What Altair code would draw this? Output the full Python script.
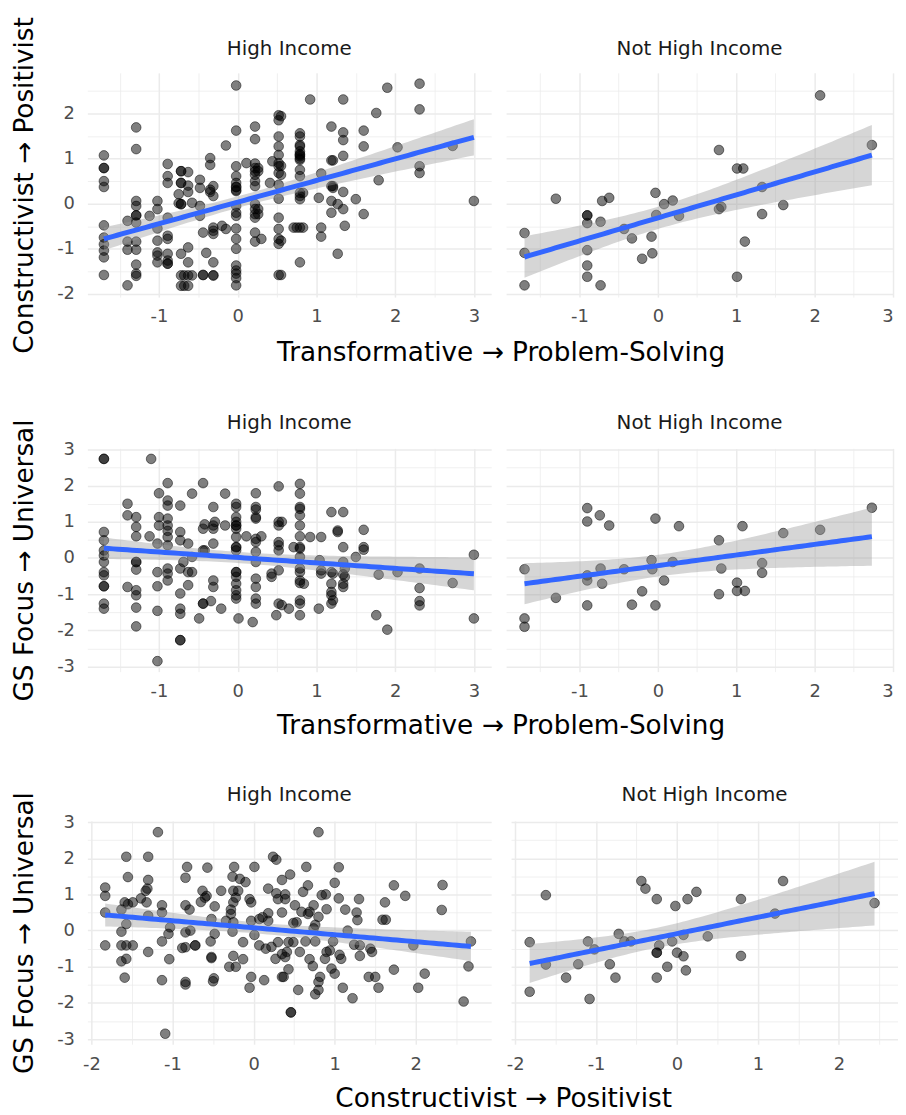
import math
import numpy as np
import pandas as pd
import altair as alt

FONT = "DejaVu Sans"

# ---------------- data ----------------
# Row 1: x = Transformative -> Problem-Solving, y = Constructivist -> Positivist
R1_HI = [
    (-1.70, [1.07, 0.79, 0.79, 0.50, 0.37, -0.48, -0.75, -0.90, -1.04, -1.19, -1.58]),
    (-1.40, [-0.38, -0.84, -1.02, -1.81]),
    (-1.29, [1.69, 1.21, 0.06, -0.05, -0.26, -0.26, -0.42, -0.84, -1.02, -1.35, -1.55, -1.60]),
    (-1.12, [-0.27]),
    (-1.02, [0.06, -0.12, -0.55, -0.82, -1.08, -1.15, -1.30]),
    (-0.89, [0.88, 0.61, 0.46, -0.31, -0.71, -0.78, -1.11, -1.26, -1.33, -1.33]),
    (-0.75, [0.21, 0.01]),
    (-0.72, [0.72, 0.72, 0.46, 0.46, -0.01, -0.01, -1.11, -1.59, -1.82]),
    (-0.68, [-1.59, -1.82]),
    (-0.63, [0.70, 0.40, 0.26, -0.97, -1.30, -1.59, -1.82]),
    (-0.58, [0.02, -1.59]),
    (-0.48, [0.53, 0.35, -0.05, -0.27]),
    (-0.44, [-0.64, -1.58, -1.58]),
    (-0.40, [-1.09]),
    (-0.35, [1.01, 0.86, 0.31, 0.26]),
    (-0.31, [0.39, 0.17, -0.53, -0.60, -0.67, -1.30, -1.59, -1.59]),
    (-0.20, [-0.49]),
    (-0.15, [1.29, -0.56]),
    (-0.02, [2.62, 1.62, 0.83, 0.61, 0.46, 0.37, 0.37, 0.30, 0.28, -0.05, -0.20, -0.27,
             -0.55, -0.78, -1.00, -1.37, -1.48, -1.55, -1.65, -1.81]),
    (0.11, [0.90]),
    (0.22, [1.71, 1.43, 0.89, 0.79, 0.72, 0.64, 0.50, 0.39, -0.01, -0.12, -0.23, -0.31, -0.64, -0.84]),
    (0.26, [0.79, 0.72, -0.12, -0.23]),
    (0.30, [-0.78]),
    (0.41, [0.46]),
    (0.44, [0.94]),
    (0.52, [1.96, 1.85, 1.49, 1.27, 1.08, 0.90, 0.83, 0.68, 0.42, 0.11, -0.31, -0.56, -0.78, -0.89, -1.58]),
    (0.55, [1.94, 0.84, 0.64, -0.82, -1.58]),
    (0.71, [-0.53]),
    (0.75, [-0.53]),
    (0.79, [1.56, 1.49, 1.30, 1.27, 1.16, 1.10, 1.08, 1.05, 1.00, 0.97, 0.75, 0.61, 0.24, 0.17, 0.10, -0.53, -1.30]),
    (0.83, [0.24, -0.53]),
    (0.92, [2.31]),
    (1.03, [0.13]),
    (1.06, [0.67, -0.53, -0.73]),
    (1.19, [1.71, 0.96, 0.39, 0.06, -0.20]),
    (1.21, [0.96, 0.39, 0.35]),
    (1.27, [-0.01, -1.11]),
    (1.34, [2.31, 1.58, 1.41, 1.06, 0.26, -0.12]),
    (1.36, [-0.49]),
    (1.50, [0.10]),
    (1.60, [1.62, 1.27, -0.23]),
    (1.76, [2.01]),
    (1.79, [0.52]),
    (1.90, [2.57]),
    (2.03, [1.25]),
    (2.31, [2.66, 2.09, 0.83, 0.68]),
    (2.73, [1.28]),
    (3.00, [0.06]),
]
R1_NHI = [
    (-1.70, [-0.65, -1.09, -1.81]),
    (-1.30, [0.11]),
    (-0.90, [-0.26, -0.26, -0.43, -1.03, -1.37, -1.62]),
    (-0.73, [-0.40, -1.81]),
    (-0.71, [0.06]),
    (-0.62, [0.13]),
    (-0.43, [-0.56]),
    (-0.33, [-0.77]),
    (-0.20, [-1.22]),
    (-0.08, [-0.73]),
    (-0.07, [-1.10]),
    (-0.03, [0.24]),
    (-0.02, [-0.25]),
    (0.08, [-0.01]),
    (0.19, [0.07]),
    (0.27, [-0.27]),
    (0.78, [1.19, -0.12]),
    (0.81, [-0.07]),
    (1.01, [0.78, -1.62]),
    (1.09, [0.78]),
    (1.11, [-0.84]),
    (1.33, [0.37, -0.23]),
    (1.60, [-0.03]),
    (2.07, [2.40]),
    (2.73, [1.30]),
]

# Row 2: x = Transformative -> Problem-Solving, y = GS Focus -> Universal
R2_HI = [
    (-1.70, [2.74, 2.74, 0.72, 0.49, 0.21, 0.07, -0.11, -0.39, -0.48, -0.78, -0.78, -1.26, -1.40]),
    (-1.40, [1.50, 1.18, -0.80]),
    (-1.29, [1.13, 0.86, 0.60, -0.11, -0.11, -0.32, -0.89, -1.03, -1.37, -1.89]),
    (-1.12, [0.60]),
    (-1.10, [2.74]),
    (-1.02, [0.40, -0.39, -0.78, -1.46, -2.85]),
    (-1.00, [1.79, 1.13, 0.90]),
    (-0.89, [2.07, 1.59, 1.45, 1.09, 0.90, 0.75, 0.58, 0.35, -0.29, -0.43, -0.62]),
    (-0.73, [1.45, 0.72, 0.49, -0.29, -0.98, -1.40, -1.54, -2.27, -2.27]),
    (-0.69, [-0.11]),
    (-0.63, [0.40, -0.39, -0.75]),
    (-0.58, [1.78, 0.03, -0.39]),
    (-0.49, [-1.67]),
    (-0.44, [2.07, 0.81, 0.21, -1.26, -1.26]),
    (-0.42, [0.93, 0.21]),
    (-0.34, [-1.19]),
    (-0.31, [1.41, 0.90, 0.81, 0.40, -0.62, -0.80]),
    (-0.29, [1.00]),
    (-0.21, [-1.40]),
    (-0.16, [1.78, 0.90]),
    (-0.02, [1.50, 1.41, 1.13, 1.00, 0.90, 0.90, 0.81, 0.58, 0.30, 0.30, 0.21, -0.39, -0.39,
             -0.52, -0.71, -0.89, -1.03, -1.12]),
    (0.01, [-1.67]),
    (0.11, [0.60]),
    (0.19, [-1.77]),
    (0.23, [1.79, 1.41, 1.34, 1.13, 1.09, 0.53, 0.44, 0.17, -0.11, -0.57, -0.80, -1.12, -1.26]),
    (0.30, [0.60]),
    (0.43, [-0.52, -0.43]),
    (0.49, [-1.58]),
    (0.52, [1.98, 1.00, 0.90, 0.44, 0.35, 0.21, -0.34, -1.26]),
    (0.56, [1.00, -1.30]),
    (0.65, [-1.40]),
    (0.71, [0.30]),
    (0.79, [2.05, 1.78, 1.41, 1.36, 1.18, 0.90, 0.60, 0.30, 0.26, 0.03, -0.29, -0.39, -0.62, -0.69,
            -1.17, -1.26, -1.58]),
    (0.84, [-0.71]),
    (0.92, [0.58]),
    (1.03, [-1.40]),
    (1.04, [-0.06]),
    (1.06, [0.58, -0.34, -0.43]),
    (1.19, [1.27, -0.39, -0.71, -0.94, -1.03, -1.26]),
    (1.21, [-0.43, -1.17]),
    (1.27, [0.76, 0.72]),
    (1.34, [1.27, 0.30, -0.11, -0.45, -0.71, -0.80]),
    (1.36, [-0.29, -0.52]),
    (1.50, [0.03]),
    (1.60, [0.78, 0.30, 0.23]),
    (1.76, [-1.58]),
    (1.79, [-0.46]),
    (1.90, [-1.98]),
    (2.03, [-0.39]),
    (2.31, [-0.29, -0.83, -1.19, -1.31]),
    (2.73, [-0.69]),
    (3.00, [0.09, -1.67]),
]
R2_NHI = [
    (-1.70, [-0.31, -1.67, -1.90]),
    (-1.30, [-1.10]),
    (-0.90, [1.38, 1.01, -0.48, -0.62, -1.31]),
    (-0.74, [1.18]),
    (-0.73, [-0.29]),
    (-0.71, [-0.71]),
    (-0.62, [0.90]),
    (-0.43, [-0.31]),
    (-0.33, [-1.29]),
    (-0.20, [-0.92]),
    (-0.08, [-0.06]),
    (-0.07, [-0.31]),
    (-0.03, [1.09, -1.31]),
    (0.08, [-0.62]),
    (0.19, [-0.11]),
    (0.27, [0.88]),
    (0.78, [0.49, -1.00]),
    (0.81, [-0.29]),
    (1.01, [-0.68, -0.91]),
    (1.08, [0.88]),
    (1.11, [-0.91]),
    (1.33, [-0.14, -0.41]),
    (1.60, [0.69]),
    (2.07, [0.78]),
    (2.73, [1.39]),
]

# Row 3: x = Constructivist -> Positivist, y = GS Focus -> Universal
R3_HI = [
    (-1.18, 2.72), (-1.57, 2.04), (-1.30, 2.04), (-1.55, 1.48), (-1.30, 1.40), (-0.82, 1.76),
    (-0.84, 1.46), (-0.57, 1.74), (-0.24, 1.76), (0.01, 1.76), (-1.83, 1.19), (-1.83, 0.96),
    (-1.83, 0.50), (-1.59, 0.78), (-1.55, 0.73), (-1.49, 0.78), (-1.39, 0.89), (-1.33, 1.10),
    (-1.31, 1.16), (-1.32, 0.78), (-1.30, 0.41), (-1.63, 0.58), (-1.57, 0.18), (-1.63, -0.03),
    (-1.83, -0.41), (-1.63, -0.41), (-1.57, -0.41), (-1.49, -0.41), (-1.30, -0.59), (-1.57, -0.78),
    (-1.63, -0.85), (-1.59, -1.30), (-1.13, 0.70), (-1.13, 0.50), (-1.03, 0.09), (-1.05, -0.09),
    (-1.13, -0.30), (-1.04, -0.79), (-1.13, -1.37), (-1.09, -2.85), (-0.84, 0.70), (-0.79, 0.58),
    (-0.84, -0.05), (-0.78, 0.00), (-0.88, -0.48), (-0.84, -0.46), (-0.72, -0.41), (-0.72, -0.41),
    (-0.84, -1.42), (-0.84, -1.49), (-0.63, 1.10), (-0.65, 0.79), (-0.60, 0.91), (-0.58, 0.96),
    (-0.48, 0.67), (-0.52, 0.32), (-0.48, -0.09), (-0.53, -0.30), (-0.52, -0.73), (-0.52, -0.76),
    (-0.49, -1.32), (-0.50, -1.40), (-0.40, 1.10), (-0.26, 1.49), (-0.17, 1.43), (-0.10, 1.34),
    (-0.25, 1.10), (-0.19, 1.10), (-0.25, 0.78), (-0.22, 0.91), (-0.28, 0.58), (-0.28, 0.46),
    (-0.34, 0.27), (-0.25, 0.23), (-0.26, -0.03), (-0.25, -0.70), (-0.13, -0.79), (-0.30, -1.00),
    (-0.22, -1.00), (-0.13, -0.32), (-0.05, 0.87), (-0.03, 0.78), (-0.03, 0.27), (0.01, -0.12),
    (0.07, -0.41), (-0.03, -1.28), (-0.05, -1.58), (0.13, -1.37), (0.18, 1.16), (0.24, 2.04),
    (0.28, 1.96), (0.07, 0.32), (0.11, 0.37), (0.18, 0.48), (0.18, 0.27), (0.27, -0.78),
    (0.30, -0.32), (0.35, -1.28), (0.28, 1.03), (0.30, 0.87), (0.35, 1.40), (0.35, 0.50),
    (0.15, -0.50), (0.22, -0.45), (0.35, -0.65),
    (0.80, 2.72), (0.65, 1.76), (1.05, 1.75), (0.67, 1.25), (0.61, 1.07), (1.00, 1.32),
    (0.84, 0.98), (0.89, 1.00), (1.05, 0.89), (1.30, 0.87), (0.74, 0.70), (0.90, 0.59),
    (1.13, 0.58), (1.27, 0.50), (1.28, 0.29), (0.69, 0.52), (0.67, 0.46), (0.80, 0.38),
    (0.76, 0.16), (0.74, 0.06), (1.16, 0.00), (0.98, -0.30), (0.76, -0.30), (0.90, -0.59),
    (0.88, -0.78), (0.94, -0.55), (1.06, -0.67), (1.08, -0.78), (0.69, -0.79), (0.73, -0.98),
    (0.96, -1.05), (1.00, -1.19), (0.82, -1.28), (0.80, -1.42), (0.80, -1.64), (0.76, -1.76),
    (1.10, -1.58), (1.22, -1.87), (1.24, -0.39), (1.31, -0.41), (1.31, -0.70), (1.44, -0.50),
    (1.46, -0.59), (1.42, -1.28), (1.50, -1.28), (1.54, -1.58), (1.62, 0.78), (1.59, 0.30),
    (1.63, 0.30), (1.73, 1.25), (1.87, 0.96), (1.73, -1.08), (1.97, -0.41), (2.03, -1.58),
    (2.11, -1.19), (2.33, 1.26), (2.32, 0.57), (2.59, -1.96), (2.65, -0.99), (2.68, -0.30),
    (0.46, -2.26), (0.46, -2.26), (0.45, 1.55), (0.39, 1.00), (0.39, 0.87), (0.51, 0.70),
    (0.53, 0.23), (0.49, 0.21), (0.59, 0.52), (0.43, -0.32), (0.49, -0.32), (0.41, -0.59),
    (0.39, -0.73), (0.57, -0.59), (0.43, -1.07), (0.37, -1.28), (0.55, -1.64), (0.64, -0.30),
]
R3_NHI = [
    (-1.82, -0.32), (-1.82, -1.69), (-1.62, 0.98), (-1.62, -0.94), (-1.37, -1.30), (-1.22, -0.93),
    (-1.10, -0.30), (-1.08, -1.89), (-1.02, -0.52), (-0.83, -0.93), (-0.76, -1.30), (-0.72, -0.09),
    (-0.65, -0.30), (-0.57, -0.30), (-0.44, 1.37), (-0.39, 1.16), (-0.25, 0.87), (-0.25, -0.61),
    (-0.25, -0.61), (-0.25, -1.30), (-0.22, -0.41), (-0.12, -1.00), (-0.06, -0.30), (-0.02, 0.68),
    (0.00, -0.61), (0.08, -0.71), (0.08, -0.12), (0.11, -1.10), (0.13, 0.87), (0.24, 1.07),
    (0.38, -0.16), (0.79, 0.87), (0.79, -0.70), (1.21, 0.47), (1.31, 1.37), (2.44, 0.76),
]

STRIPS = ["High Income", "Not High Income"]
TITLE_TPS = "Transformative \u2192 Problem-Solving"
TITLE_CP = "Constructivist \u2192 Positivist"
TITLE_GS = "GS Focus \u2192 Universal"

BREAKS_TPS = [-1.5, -1, -0.5, 0, 0.5, 1, 1.5, 2, 2.5, 3]
BREAKS_CP_X = [-2, -1.5, -1, -0.5, 0, 0.5, 1, 1.5, 2, 2.5]
BREAKS_CP_Y = [-2, -1.5, -1, -0.5, 0, 0.5, 1, 1.5, 2, 2.5]
BREAKS_GS = [-3, -2.5, -2, -1.5, -1, -0.5, 0, 0.5, 1, 1.5, 2, 2.5, 3]


def expand(cols):
    return [(x, y) for x, ys in cols for y in ys]


def t975(dof):
    z = 1.959964
    g1 = (z ** 3 + z) / 4
    g2 = (5 * z ** 5 + 16 * z ** 3 + 3 * z) / 96
    g3 = (3 * z ** 7 + 19 * z ** 5 + 17 * z ** 3 - 15 * z) / 384
    return z + g1 / dof + g2 / dof ** 2 + g3 / dof ** 3


def smooth(pts, n=80):
    a = np.array(pts, dtype=float)
    x, y = a[:, 0], a[:, 1]
    b1, b0 = np.polyfit(x, y, 1)
    r = y - (b0 + b1 * x)
    dof = len(x) - 2
    s = math.sqrt((r ** 2).sum() / dof)
    xm = x.mean()
    sxx = ((x - xm) ** 2).sum()
    xs = np.linspace(x.min(), x.max(), n)
    fit = b0 + b1 * xs
    se = s * np.sqrt(1 / len(x) + (xs - xm) ** 2 / sxx)
    t = t975(dof)
    return pd.DataFrame({"x": xs, "fit": fit, "lo": fit - t * se, "hi": fit + t * se})


GRID_W = {"condition": {"test": "datum.value % 1 !== 0", "value": 0.75}, "value": 1.5}
LABEL_EXPR = "datum.value % 1 === 0 ? '' + datum.value : ''"
TICK_SIZE = 18
STRIP_SIZE = 20
TITLE_SIZE = 26.5


def panel(pts, xdom, width, xbreaks, ydom, height, ybreaks, strip, strip_offset, ytitle=None):
    pdf = pd.DataFrame(pts, columns=["x", "y"])
    sdf = smooth(pts)
    xaxis = alt.Axis(values=xbreaks, labelExpr=LABEL_EXPR, grid=True, gridColor="#EBEBEB",
                     gridWidth=GRID_W, ticks=False, domain=False, title=None,
                     labelFont=FONT, labelFontSize=TICK_SIZE, labelColor="#4D4D4D",
                     labelPadding=11, labelFlush=2, labelOverlap=False)
    if ytitle is not None:
        yaxis = alt.Axis(values=ybreaks, labelExpr=LABEL_EXPR, grid=True, gridColor="#EBEBEB",
                         gridWidth=GRID_W, ticks=False, domain=False, title=ytitle,
                         titleFont=FONT, titleFontSize=TITLE_SIZE, titleFontWeight="normal",
                         titleColor="black", titlePadding=18,
                         labelFont=FONT, labelFontSize=TICK_SIZE, labelColor="#4D4D4D",
                         labelPadding=13, labelFlush=False, labelOverlap=False)
    else:
        yaxis = alt.Axis(values=ybreaks, labels=False, grid=True, gridColor="#EBEBEB",
                         gridWidth=GRID_W, ticks=False, domain=False, title=None,
                         labelPadding=0)
    xs = alt.Scale(domain=xdom, nice=False, zero=False)
    ys = alt.Scale(domain=ydom, nice=False, zero=False)

    points = alt.Chart(pdf).mark_point(
        shape="circle", filled=True, size=95, fill="black", fillOpacity=0.5,
        stroke="black", strokeOpacity=0.5, strokeWidth=1
    ).encode(
        x=alt.X("x:Q", scale=xs, axis=xaxis),
        y=alt.Y("y:Q", scale=ys, axis=yaxis),
    )
    band = alt.Chart(sdf).mark_area(fill="#999999", fillOpacity=0.4).encode(
        x=alt.X("x:Q", scale=xs, axis=xaxis),
        y=alt.Y("lo:Q", scale=ys, axis=yaxis),
        y2="hi:Q",
    )
    line = alt.Chart(sdf).mark_line(color="#3366FF", strokeWidth=5).encode(
        x=alt.X("x:Q", scale=xs, axis=xaxis),
        y=alt.Y("fit:Q", scale=ys, axis=yaxis),
    )
    return alt.layer(points, band, line).properties(
        width=width, height=height,
        title=alt.TitleParams(strip, font=FONT, fontSize=STRIP_SIZE, fontWeight="normal",
                              color="#1A1A1A", anchor="middle", offset=strip_offset),
    )


def row(hi, nhi, xdom_hi, xdom_nhi, w_hi, w_nhi, xbreaks, ydom, h, ybreaks, ytitle, xtitle,
        strip_off_hi, strip_off_nhi, xtitle_off):
    p1 = panel(hi, xdom_hi, w_hi, xbreaks, ydom, h, ybreaks, STRIPS[0], strip_off_hi, ytitle)
    p2 = panel(nhi, xdom_nhi, w_nhi, xbreaks, ydom, h, ybreaks, STRIPS[1], strip_off_nhi, None)
    return alt.hconcat(p1, p2, spacing=15).properties(
        title=alt.TitleParams(xtitle, orient="bottom", anchor="middle", font=FONT,
                              fontSize=TITLE_SIZE, fontWeight="normal", color="black",
                              offset=xtitle_off, dx=49)
    )


row1 = row(expand(R1_HI), expand(R1_NHI), [-1.91, 3.22], [-1.935, 3.0], 407, 390,
           BREAKS_TPS, [-2.07, 2.90], 226, BREAKS_CP_Y, TITLE_CP, TITLE_TPS, -43, 14, -13)
row2 = row(expand(R2_HI), expand(R2_NHI), [-1.91, 3.22], [-1.935, 3.0], 407, 390,
           BREAKS_TPS, [-3.14, 3.03], 225, BREAKS_GS, TITLE_GS, TITLE_TPS, -14, 16, 12.5)
row3 = row(R3_HI, R3_NHI, [-2.05, 2.93], [-2.05, 2.73], 407, 390,
           BREAKS_CP_X, [-3.14, 3.03], 225, BREAKS_GS, TITLE_GS, TITLE_CP, -14, 16, 12.5)

chart = alt.vconcat(row1, row2, row3, spacing=45.5).properties(
    padding={"left": 4, "top": 4, "right": 0, "bottom": 0},
    background="white",
).configure_view(stroke=None)

chart.save("out.html", embed_options={"renderer": "svg", "actions": False})
